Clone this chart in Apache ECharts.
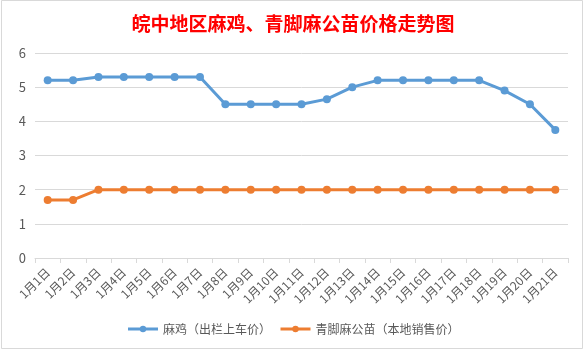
<!DOCTYPE html>
<html><head><meta charset="utf-8">
<script src="https://cdn.jsdelivr.net/npm/echarts@6/dist/echarts.min.js"></script>
<style>html,body{margin:0;padding:0;background:#fff}#c{width:586px;height:352px}</style>
</head><body><div id="c"></div>
<script>
var categories = ['1月1日','1月2日','1月3日','1月4日','1月5日','1月6日','1月7日','1月8日','1月9日','1月10日','1月11日','1月12日','1月13日','1月14日','1月15日','1月16日','1月17日','1月18日','1月19日','1月20日','1月21日'];
var chickenPrice = [5.2,5.2,5.3,5.3,5.3,5.3,5.3,4.5,4.5,4.5,4.5,4.65,5.0,5.2,5.2,5.2,5.2,5.2,4.9,4.5,3.75];
var seedlingPrice = [1.7,1.7,2,2,2,2,2,2,2,2,2,2,2,2,2,2,2,2,2,2,2];
var seriesNames = ['麻鸡（出栏上车价）','青脚麻公苗（本地销售价）'];
var titleText = '皖中地区麻鸡、青脚麻公苗价格走势图';

var chart = echarts.init(document.getElementById('c'));
var font = '"Microsoft YaHei","Noto Sans CJK SC",sans-serif';
chart.setOption({
  animation:false,
  backgroundColor:'#fff',
  graphic:[{type:'rect',shape:{x:1.5,y:0.5,width:581,height:348},style:{fill:null,stroke:'#d9d9d9',lineWidth:1}}],
  title:{text:titleText,left:'center',top:9,textStyle:{color:'#ff0000',fontSize:19,fontWeight:'bold',fontFamily:'"Noto Sans CJK SC",serif'}},
  legend:{bottom:12,left:'center',itemWidth:30,itemHeight:8,itemGap:8,textStyle:{color:'#595959',fontSize:12,fontFamily:font},
    lineStyle:{width:3},
    data:seriesNames},
  grid:{left:35,right:18,top:53,bottom:94,containLabel:false},
  xAxis:{type:'category',data:categories,boundaryGap:true,
    axisLine:{lineStyle:{color:'#d9d9d9'}},axisTick:{show:true,lineStyle:{color:'#d9d9d9'},length:5},
    axisLabel:{rotate:45,color:'#595959',fontSize:12,fontFamily:font,margin:12,interval:0}},
  yAxis:{type:'value',min:0,max:6,interval:1,
    axisLine:{show:false},axisTick:{show:false},
    splitLine:{lineStyle:{color:'#d9d9d9'}},
    axisLabel:{color:'#595959',fontSize:13,fontFamily:font,margin:9}},
  series:[
    {name:seriesNames[0],type:'line',data:chickenPrice,symbol:'circle',symbolSize:8,
     itemStyle:{color:'#5b9bd5'},lineStyle:{width:3,color:'#5b9bd5'}},
    {name:seriesNames[1],type:'line',data:seedlingPrice,symbol:'circle',symbolSize:8,
     itemStyle:{color:'#ed7d31'},lineStyle:{width:3,color:'#ed7d31'}}
  ]
});
</script></body></html>
